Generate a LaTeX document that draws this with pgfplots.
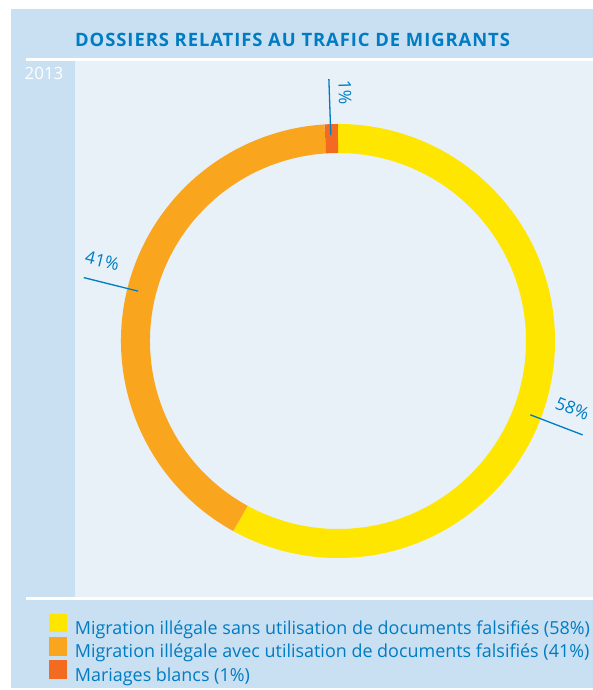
\documentclass[border=0pt]{standalone}
\usepackage{fontspec}
\setmainfont{Open Sans}
\newfontfamily\titlefont[LetterSpace=5]{Open Sans}
\usepackage{pgfplots}
\usepackage{pgfplotstable}
\pgfplotsset{compat=1.18}
\usetikzlibrary{calc}

\definecolor{band}{RGB}{201,223,242}
\definecolor{chartbg}{RGB}{232,240,248}
\definecolor{ink}{RGB}{0,124,195}
\definecolor{sans}{RGB}{255,230,0}
\definecolor{avec}{RGB}{249,166,30}
\definecolor{blancs}{RGB}{242,107,33}

% share of cases, percent, clockwise from 12 o'clock
\pgfplotstableread{
label value
sans 58
avec 41
blancs 1
}\dossiers

\pgfplotstablegetelem{0}{value}\of\dossiers \edef\vA{\pgfplotsretval}
\pgfplotstablegetelem{1}{value}\of\dossiers \edef\vB{\pgfplotsretval}
\pgfplotstablegetelem{2}{value}\of\dossiers \edef\vC{\pgfplotsretval}
\pgfmathsetmacro\aA{90-3.6*\vA}
\pgfmathsetmacro\aB{\aA-3.6*\vB}
\pgfmathsetmacro\aC{\aB-3.6*\vC}

\begin{document}
\begin{tikzpicture}
\begin{axis}[
  x=1bp, y=1bp, xmin=0, xmax=593, ymin=0, ymax=690,
  hide axis, scale only axis, clip=false,
  legend style={
    at={(0.0826,0.1105)}, anchor=north west,
    draw=none, fill=none, inner sep=0pt, outer sep=0pt,
    font=\fontsize{18}{20}\selectfont, text=ink,
    row sep=1bp, cells={anchor=west},
    nodes={inner sep=0pt},
    /tikz/every odd column/.append style={column sep=8bp},
  },
  legend image code/.code={\fill[#1] (0bp,-3bp) rectangle (17.5bp,14.5bp);},
]
\path (axis cs:0,0) rectangle (axis cs:593,690);
% panels
\fill[band] (axis cs:11,2) rectangle (axis cs:593,681);
\fill[chartbg] (axis cs:75,93) rectangle (axis cs:593,629);
\fill[white] (axis cs:26,629) rectangle (axis cs:593,631.5);
\fill[white] (axis cs:26,90) rectangle (axis cs:593,93);
\node[anchor=west, inner sep=0pt, text=ink,
      font=\fontsize{18.5}{20}\titlefont\bfseries]
  at (axis cs:75,650) {DOSSIERS RELATIFS AU TRAFIC DE MIGRANTS};
\node[text=white, inner sep=0pt, font=\fontsize{17}{19}\selectfont]
  at (axis cs:44,617) {2013};

% ring
\draw[line width=29bp, sans] (axis cs:338,349) ++(90:202.5bp)
  arc[start angle=90, end angle=\aA, radius=202.5bp];
\draw[line width=29bp, avec] (axis cs:338,349) ++(\aA:202.5bp)
  arc[start angle=\aA, end angle=\aB, radius=202.5bp];
\draw[line width=29bp, blancs] (axis cs:338,349) ++(\aB:202.5bp)
  arc[start angle=\aB, end angle=\aC, radius=202.5bp];

% labels
\draw[ink, line width=1.3bp] (axis cs:338,349) ++(-21:206bp) -- ++(-21:56bp);
\draw[ink, line width=1.3bp] (axis cs:338,349) ++(166:206bp) -- ++(166:56bp);
\draw[ink, line width=1.3bp] (axis cs:338,349) ++(92:206bp) -- ++(92:56bp);
\node[text=ink, rotate=-21, inner sep=0pt, font=\fontsize{17.5}{19}\selectfont]
  at ($(axis cs:338,349)+(-16.1:244bp)$) {\vA\%};
\node[text=ink, rotate=-14, inner sep=0pt, font=\fontsize{17.5}{19}\selectfont]
  at ($(axis cs:338,349)+(161.2:249bp)$) {\vB\%};
\node[text=ink, rotate=-88, inner sep=0pt, font=\fontsize{17.5}{19}\selectfont]
  at ($(axis cs:338,349)+(88.4:249bp)$) {\vC\%};

\addlegendimage{sans}
\addlegendentry{Migration illégale sans utilisation de documents falsifiés (\vA\%)}
\addlegendimage{avec}
\addlegendentry{Migration illégale avec utilisation de documents falsifiés (\vB\%)}
\addlegendimage{blancs}
\addlegendentry{Mariages blancs (\vC\%)}
\end{axis}
\end{tikzpicture}
\end{document}
